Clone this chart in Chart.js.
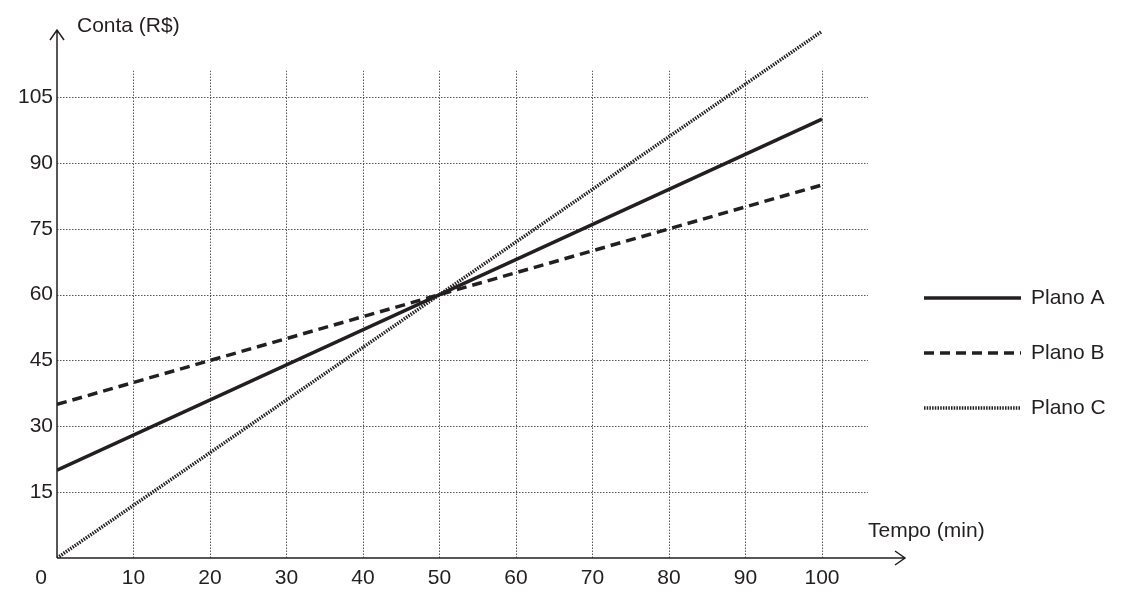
<!DOCTYPE html><html><head><meta charset="utf-8">
<script src="https://cdn.jsdelivr.net/npm/chart.js@4/dist/chart.umd.min.js"></script>
<style>html,body{margin:0;background:#fff}#w{width:1139px;height:604px}</style></head><body>
<div id="w"><canvas id="c"></canvas></div>
<script>
const tempo=[0,100];
const planoA=[20,100];
const planoB=[35,85];
const planoC=[0,120];
const xTicks=[10,20,30,40,50,60,70,80,90,100];
const yTicks=[15,30,45,60,75,90,105];
const seriesNames=['Plano A','Plano B','Plano C'];
const col='#231f20';
const FONT='21px "Liberation Sans", Arial, sans-serif';
const pts=a=>tempo.map((t,i)=>({x:t,y:a[i]}));
const styles=[{w:3.5,d:[]},{w:3.5,d:[10,6]},{w:3.5,d:[1.5,1.2]}];
const deco={id:'deco',
beforeDatasetsDraw(ch){const c=ch.ctx,x=ch.scales.x,y=ch.scales.y;
 c.save();c.strokeStyle='#555';c.lineWidth=1;c.setLineDash([1.5,1.5]);
 const gx=x.getPixelForValue(106),gy=y.getPixelForValue(111);
 xTicks.forEach(v=>{const p=Math.round(x.getPixelForValue(v))+.5;c.beginPath();c.moveTo(p,y.getPixelForValue(0));c.lineTo(p,gy);c.stroke();});
 yTicks.forEach(v=>{const p=Math.round(y.getPixelForValue(v))+.5;c.beginPath();c.moveTo(x.getPixelForValue(0),p);c.lineTo(gx,p);c.stroke();});
 c.setLineDash([]);c.strokeStyle=col;c.lineWidth=1.5;
 const x0=x.getPixelForValue(0),y0=y.getPixelForValue(0),xe=ch.chartArea.right,yt=ch.chartArea.top;
 c.beginPath();c.moveTo(x0,y0);c.lineTo(xe,y0);c.moveTo(xe-10,y0-7);c.lineTo(xe,y0);c.lineTo(xe-10,y0+7);
 c.moveTo(x0,y0);c.lineTo(x0,yt);c.moveTo(x0-7,yt+10);c.lineTo(x0,yt);c.lineTo(x0+7,yt+10);c.stroke();
 c.fillStyle=col;c.font=FONT;c.textAlign='center';c.textBaseline='top';
 xTicks.forEach(v=>c.fillText(String(v),x.getPixelForValue(v),y0+10));
 c.fillText('0',x0-16,y0+10);
 c.textAlign='right';c.textBaseline='middle';
 yTicks.forEach(v=>c.fillText(String(v),x0-4,y.getPixelForValue(v)));
 c.textAlign='left';c.textBaseline='middle';
 c.fillText('Conta (R$)',x0+20,yt-4);
 c.fillText('Tempo (min)',868,y0-27);
 seriesNames.forEach((n,i)=>{const ly=298+i*55;c.lineWidth=styles[i].w;c.setLineDash(styles[i].d);
  c.beginPath();c.moveTo(924,ly);c.lineTo(1021,ly);c.stroke();c.setLineDash([]);c.fillText(n,1031,ly);});
 c.restore();}};
new Chart(document.getElementById('c'),{type:'line',
data:{datasets:[planoA,planoB,planoC].map((a,i)=>({label:seriesNames[i],data:pts(a),borderColor:col,borderWidth:styles[i].w,borderDash:styles[i].d,pointRadius:0,fill:false,tension:0}))},
options:{responsive:true,maintainAspectRatio:false,animation:false,
layout:{padding:{left:57,right:234,top:30,bottom:46}},
plugins:{legend:{display:false},tooltip:{enabled:false}},
scales:{x:{type:'linear',min:0,max:110.85,display:false},y:{min:0,max:120.3,display:false}}},
plugins:[deco]});
</script></body></html>
